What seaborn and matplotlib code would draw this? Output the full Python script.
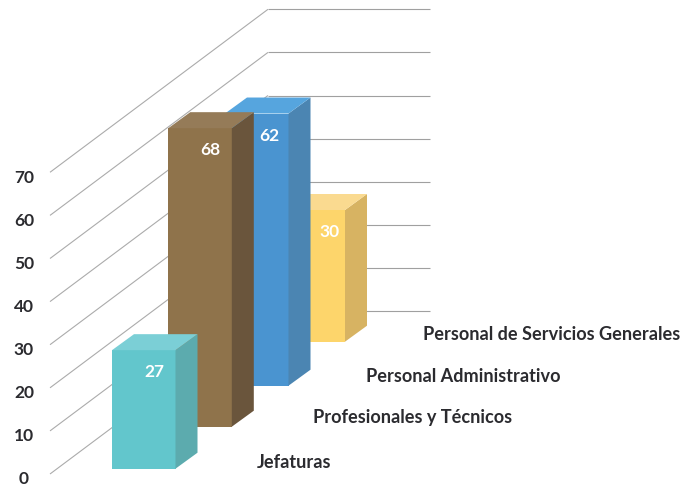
import matplotlib
matplotlib.use("Agg")
import matplotlib.pyplot as plt
import seaborn as sns

categories = ["Jefaturas", "Profesionales y Técnicos", "Personal Administrativo", "Personal de Servicios Generales"]
values = [27, 68, 62, 30]
y_ticks = [0, 10, 20, 30, 40, 50, 60, 70]

front_colors = ["#62C6CC", "#8F734B", "#4A94D0", "#FDD56B"]
side_colors = ["#5CABAE", "#6A553C", "#4B85B2", "#D7B362"]
top_colors = ["#7BCFD6", "#957B58", "#56A5DE", "#FADA90"]

# Layout in pixels of the 680x486 canvas
PX_PER_UNIT = 4.39
ZERO_PX = 468.7
bar_left_px = [112, 168.3, 225, 281.5]
bar_base_px = [468.7, 426.7, 385.7, 341.7]
label_pos_px = [(257, 462), (313, 417), (366, 376), (423, 334)]
value_inset_px = [21.5, 21, 19, 15]
BAR_W = 63.5
DEPTH_X, DEPTH_Y = 22, 16


def py(p):
    return (ZERO_PX - p) / PX_PER_UNIT


sns.set_theme(style="white")
plt.rcParams["font.family"] = ["Lato", "DejaVu Sans"]
TEXT = "#2b2b2f"

fig = plt.figure(figsize=(6.8, 4.86), dpi=100)
ax = fig.add_axes([0, 0, 1, 1])

# Receding wall grid
for t in y_ticks:
    left = 474 - 4.31 * t
    back = 311 - 4.31 * t
    ax.plot([50, 268], [py(left), py(back)], color="#ababab", lw=0.8, zorder=1, solid_capstyle="butt")
    ax.plot([268, 430], [py(back), py(back)], color="#a0a0a0", lw=0.8, zorder=1, solid_capstyle="butt")
    ax.text(24, py(479 - 4.3 * t), str(t), ha="center", va="center",
            fontsize=12.5, fontweight="bold", color=TEXT)

# Bars, back to front
for i in reversed(range(len(values))):
    z = 10 + (len(values) - i) * 3
    sns.barplot(x=[bar_left_px[i] + BAR_W / 2], y=[values[i]], native_scale=True, orient="x",
                width=BAR_W, bottom=py(bar_base_px[i]), color=front_colors[i], saturation=1,
                linewidth=0, zorder=z, ax=ax)
    p = ax.patches[-1]
    x0, x1 = p.get_x(), p.get_x() + p.get_width()
    y0, y1 = p.get_y(), p.get_y() + p.get_height()
    dy = DEPTH_Y / PX_PER_UNIT
    ax.fill([x1, x1 + DEPTH_X, x1 + DEPTH_X, x1], [y0, y0 + dy, y1 + dy, y1],
            color=side_colors[i], lw=0, zorder=z)
    ax.fill([x0, x0 + DEPTH_X, x1 + DEPTH_X, x1], [y1, y1 + dy, y1 + dy, y1],
            color=top_colors[i], lw=0, zorder=z)
    ax.text(x1 - value_inset_px[i], y1 - 22 / PX_PER_UNIT, str(values[i]), ha="center", va="center",
            fontsize=12.5, fontweight="bold", color="white", zorder=z + 1)

for name, (lx, ly) in zip(categories, label_pos_px):
    ax.text(lx, py(ly), name, ha="left", va="center", fontsize=13.05, fontweight="bold", color=TEXT)

ax.set_xlim(0, 680)
ax.set_ylim(py(486), py(0))
ax.axis("off")
fig.savefig("out.png", dpi=100)
